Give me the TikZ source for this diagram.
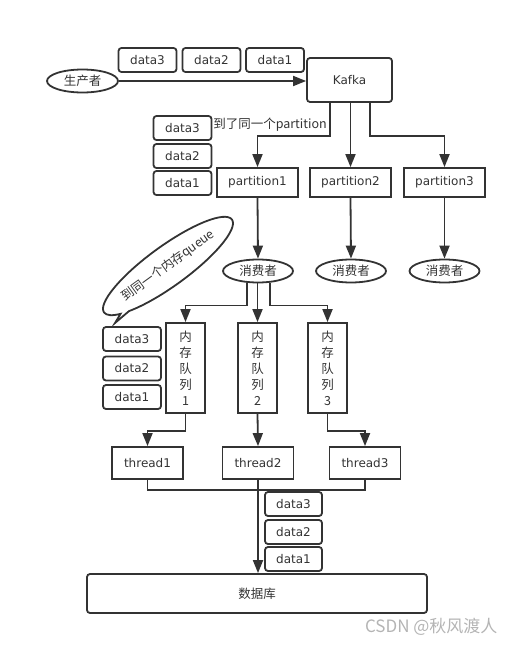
\documentclass[tikz,border=0pt]{standalone}
\usepackage{fontspec}
\setmainfont{DejaVu Sans}
\newfontfamily\cjk{Noto Sans CJK SC}
\usepackage{tikz}
\usetikzlibrary{calc, positioning}
\usetikzlibrary{shapes, arrows.meta, shapes.callouts}
\definecolor{linegray}{HTML}{333333}
\definecolor{markgray}{HTML}{B4B4B4}
\tikzset{
    every node/.style={font=\fontsize{12}{14}\selectfont, text=linegray},
    box/.style ={rectangle, draw=linegray, line width=1.8pt, inner sep=0pt}, % plain boxes: partitions, threads
    rbox/.style ={box, rounded corners=3pt}, % boxes with round corners
    databox/.style ={rbox, minimum width=58pt, minimum height=24pt},
    oval/.style ={ellipse, draw=linegray, line width=1.8pt, inner sep=0pt, minimum width=70pt, minimum height=23pt},
    qbox/.style ={box, minimum width=39pt, minimum height=90pt, align=center, font=\cjk\fontsize{12.5}{16}\selectfont},
    link/.style ={draw=linegray, line width=1.8pt},
    arr/.style ={link, -{Triangle[length=13pt,width=10pt]}}
}

\begin{document}
\begin{tikzpicture}[x=1pt, y=-1pt]
        \useasboundingbox (0,0) rectangle (517,645);

        %producer and kafka

        \node(prod)[oval, minimum width=71pt, font=\cjk\fontsize{12.5}{14}\selectfont] at (82.5,81) {生产者};
        \node(kafka)[rbox, minimum width=85pt, minimum height=44pt] at (349.5,80) {Kafka};
        \node(dt3)[databox] at (147.5,60) {data3};
        \node(dt2)[databox] at (211.5,60) {data2};
        \node(dt1)[databox] at (275,60) {data1};

        %partitions

        \node(p1)[box, minimum width=81pt, minimum height=29pt] at (257.5,182.5) {partition1};
        \node(p2)[box, minimum width=81pt, minimum height=29pt] at (350.5,182.5) {partition2};
        \node(p3)[box, minimum width=81pt, minimum height=29pt] at (444.5,182.5) {partition3};
        \node(same)[inner sep=0pt, font=\cjk\fontsize{12.5}{14}\selectfont] at (270,125) {到了同一个partition};
        \node(dp3)[databox] at (182.5,128) {data3};
        \node(dp2)[databox] at (182.5,156) {data2};
        \node(dp1)[databox] at (182.5,183) {data1};

        %consumers

        \node(c1)[oval, font=\cjk\fontsize{12.5}{14}\selectfont] at (258,271) {消费者};
        \node(c2)[oval, font=\cjk\fontsize{12.5}{14}\selectfont] at (351,271) {消费者};
        \node(c3)[oval, font=\cjk\fontsize{12.5}{14}\selectfont] at (444.5,271) {消费者};
        \coordinate(tip) at (115,323);
        \node(bubble)[ellipse callout, draw=linegray, line width=1.8pt, rotate=36, inner sep=0pt,
            minimum width=152pt, minimum height=40pt, callout pointer arc=10,
            callout absolute pointer={(tip)}, font=\cjk\fontsize{12.5}{14}\selectfont] at (168,266) {到同一个内存queue};

        %memory queues

        \node(q1)[qbox] at (185.5,368) {内\\存\\队\\列\\1};
        \node(q2)[qbox] at (257.5,368) {内\\存\\队\\列\\2};
        \node(q3)[qbox] at (327.5,368) {内\\存\\队\\列\\3};
        \node(dq3)[databox] at (132,339) {data3};
        \node(dq2)[databox] at (132,368.5) {data2};
        \node(dq1)[databox] at (132,397) {data1};

        %threads and database

        \node(t1)[box, minimum width=71pt, minimum height=32pt] at (147.5,463) {thread1};
        \node(t2)[box, minimum width=71pt, minimum height=32pt] at (258,463) {thread2};
        \node(t3)[box, minimum width=71pt, minimum height=32pt] at (365,463) {thread3};
        \node(dd3)[databox, minimum width=57pt] at (293.5,504) {data3};
        \node(dd2)[databox, minimum width=57pt] at (293.5,532) {data2};
        \node(dd1)[databox, minimum width=57pt] at (293.5,559) {data1};
        \node(db)[rbox, minimum width=340pt, minimum height=39pt, font=\cjk\fontsize{12.5}{14}\selectfont] at (257,593.5) {数据库};
        \node(mark)[anchor=east, text=markgray, font=\cjk\fontsize{17}{19}\selectfont] at (501,627) {CSDN @秋风渡人};

        %arrows

        \draw[arr] (prod) -- (prod -| kafka.west);
        \draw[arr] ($(kafka.south)+(-19.5,0)$) -- ++(0,33) -| (p1.north);
        \draw[arr] (p2.north |- kafka.south) -- (p2.north);
        \draw[arr] ($(kafka.south)+(20.5,0)$) -- ++(0,33) -| (p3.north);
        \draw[arr] (p1.south) -- (c1.north);
        \draw[arr] (p2.south) -- (c2.north);
        \draw[arr] (p3.south) -- (c3.north);
        \draw[arr] ($(c1.south)+(-11,0)$) -- ++(0,22) -| (q1.north);
        \draw[arr] (q2.north |- c1.south) -- (q2.north);
        \draw[arr] ($(c1.south)+(12,0)$) -- ++(0,22) -| (q3.north);
        \draw[arr] (q1.south) -- ++(0,17) -| (t1.north);
        \draw[arr] (q2.south) -- (t2.north);
        \draw[arr] (q3.south) -- ++(0,17) -| (t3.north);
        \draw[link, line width=1.3pt] (t1.south) -- ++(0,10) -| (t3.south);
        \draw[arr] (t2.south) -- (t2.south |- db.north);
    \end{tikzpicture}
\end{document}
